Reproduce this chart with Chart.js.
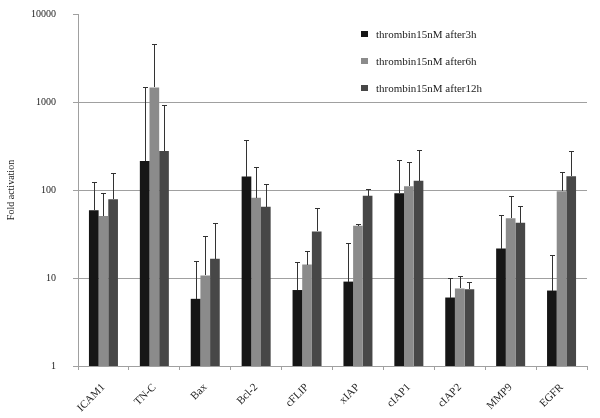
<!DOCTYPE html>
<html><head><meta charset="utf-8">
<script src="https://cdn.jsdelivr.net/npm/chart.js@4.4.0/dist/chart.umd.min.js"></script>
<style>html,body{margin:0;padding:0;background:#fff}</style>
</head><body>
<canvas id="c" width="600" height="418"></canvas>
<script>
const categories = ["ICAM1","TN-C","Bax","Bcl-2","cFLIP","xIAP","cIAP1","cIAP2","MMP9","EGFR"];
const seriesLabels = ["thrombin15nM after3h","thrombin15nM after6h","thrombin15nM after12h"];
const after3h  = [58.7, 214, 5.8, 142, 7.3, 9.1, 91.6, 6.0, 21.6, 7.2];
const after6h  = [50.6, 1465, 10.7, 81.8, 14.2, 39.2, 110, 7.6, 47.6, 96.7];
const after12h = [78.4, 278, 16.5, 64.6, 33.8, 86, 127, 7.45, 42.4, 143];
const errTop3h  = [123, 1465, 15.8, 368, 15.2, 25.1, 218, 10.0, 51.5, 18.2];
const errTop6h  = [93, 4575, 30.1, 184, 20.5, 41, 210, 10.6, 84.8, 159];
const errTop12h = [156, 923, 41.7, 118, 62.8, 103, 283, 9.0, 66.3, 276];
const yTicks = [1, 10, 100, 1000, 10000];
const colors = ["#161616", "#8b8b8b", "#474747"];

const FONT = "'Liberation Serif', 'Times New Roman', serif";

const errorBars = {
  id: 'errorBars',
  afterDatasetsDraw(chart) {
    const ctx = chart.ctx, y = chart.scales.y;
    chart.data.datasets.forEach((ds, i) => {
      const meta = chart.getDatasetMeta(i);
      meta.data.forEach((bar, j) => {
        const yt = Math.round(y.getPixelForValue(ds.errTop[j])) + 0.5;
        const yb = Math.round(y.getPixelForValue(ds.data[j]));
        const x = Math.round(bar.x) + 0.5;
        ctx.save();
        ctx.strokeStyle = '#333';
        ctx.lineWidth = 1;
        ctx.beginPath();
        ctx.moveTo(x, yb); ctx.lineTo(x, yt);
        ctx.moveTo(x - 2.5, yt); ctx.lineTo(x + 2.5, yt);
        ctx.stroke();
        ctx.restore();
      });
    });
  }
};

const legendPlugin = {
  id: 'customLegend',
  afterDraw(chart) {
    const ctx = chart.ctx;
    const centers = [34, 61, 88];
    ctx.save();
    ctx.font = "11px " + FONT;
    ctx.textBaseline = 'middle';
    ctx.textAlign = 'left';
    chart.data.datasets.forEach((ds, i) => {
      ctx.fillStyle = ds.backgroundColor;
      ctx.fillRect(361, centers[i] - 3, 7, 6);
      ctx.fillStyle = '#222';
      ctx.fillText(ds.label, 376, centers[i] + 1);
    });
    ctx.restore();
  }
};

new Chart(document.getElementById('c'), {
  type: 'bar',
  data: {
    labels: categories,
    datasets: [
      {label: seriesLabels[0], data: after3h, errTop: errTop3h, backgroundColor: colors[0]},
      {label: seriesLabels[1], data: after6h, errTop: errTop6h, backgroundColor: colors[1]},
      {label: seriesLabels[2], data: after12h, errTop: errTop12h, backgroundColor: colors[2]}
    ]
  },
  options: {
    responsive: false,
    animation: false,
    devicePixelRatio: 1,
    categoryPercentage: 0.57,
    barPercentage: 1.0,
    layout: {padding: {top: 14, right: 13, left: 0, bottom: 0}},
    plugins: {legend: {display: false}, tooltip: {enabled: false}},
    scales: {
      x: {
        grid: {display: true, drawOnChartArea: false, offset: true, tickLength: 4, color: '#a0a0a0'},
        border: {color: '#a0a0a0', width: 1},
        ticks: {font: {family: FONT, size: 11}, color: '#222', maxRotation: 45, minRotation: 45, padding: 11},
        afterFit(s) { s.height = 52; }
      },
      y: {
        type: 'logarithmic',
        min: 1, max: 10000,
        afterBuildTicks(s) { s.ticks = yTicks.map(v => ({value: v})); },
        afterFit(s) { s.width = 78; s.paddingTop = 6; s.paddingBottom = 6; },
        grid: {
          color: (c) => (c.tick && (c.tick.value === 10 || c.tick.value === 100 || c.tick.value === 1000)) ? '#a0a0a0' : 'rgba(0,0,0,0)',
          tickColor: '#a0a0a0',
          tickLength: 5
        },
        border: {color: '#a0a0a0', width: 1},
        ticks: {font: {family: FONT, size: 10}, color: '#222', padding: 17,
          callback: (v) => String(v)},
        title: {display: true, text: 'Fold activation', font: {family: FONT, size: 10}, color: '#222', padding: {top: 5, bottom: 0}}
      }
    }
  },
  plugins: [errorBars, legendPlugin]
});
</script>
</body></html>
